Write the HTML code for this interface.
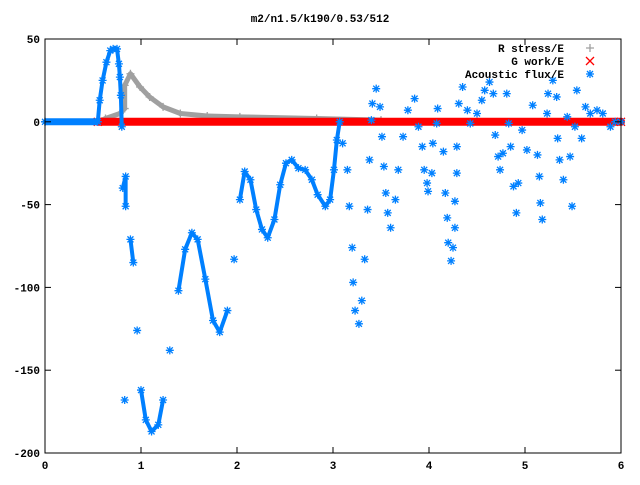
<!DOCTYPE html>
<html><head><meta charset="utf-8"><style>
body{margin:0;background:#fff}
svg text{font-family:"Liberation Mono",monospace;font-size:11px;font-weight:bold;fill:#000}
</style></head><body>
<svg id="chart" width="640" height="480" xmlns="http://www.w3.org/2000/svg">
<g id="grid"></g><g id="series"></g><g id="axes"></g><g id="legend"></g>
</svg>
<script>
const xTicks=[0,1,2,3,4,5,6];
const yTicks=[50,0,-50,-100,-150,-200];
const titleText="m2/n1.5/k190/0.53/512";
const acX=[0,0.55,0.57,0.60,0.64,0.68,0.71,0.75,0.77,0.78,0.79,0.80,0.81,0.84,0.84,0.83,0.89,0.92,0.96,1.00,1.05,1.11,1.18,1.23,1.30,1.39,1.46,1.53,1.59,1.67,1.75,1.82,1.90,1.97,2.03,2.08,2.14,2.20,2.26,2.32,2.39,2.45,2.51,2.57,2.64,2.71,2.78,2.84,2.92,2.97,3.01,3.04,3.07,3.10,3.15,3.17,3.20,3.21,3.23,3.27,3.30,3.33,3.36,3.38,3.40,3.41,3.45,3.49,3.51,3.53,3.55,3.57,3.60,3.65,3.68,3.73,3.78,3.85,3.89,3.93,3.95,3.98,3.99,4.03,4.04,4.08,4.09,4.15,4.17,4.19,4.20,4.23,4.25,4.27,4.27,4.29,4.29,4.31,4.35,4.40,4.43,4.50,4.55,4.58,4.63,4.67,4.69,4.72,4.74,4.77,4.81,4.83,4.85,4.88,4.91,4.93,4.97,5.02,5.08,5.13,5.15,5.16,5.18,5.23,5.24,5.29,5.33,5.34,5.36,5.40,5.44,5.47,5.49,5.52,5.54,5.59,5.63,5.68,5.75,5.81,5.89,5.94,6.0];
const acY=[0,0,13,25,36,43,44,44,35,27,16,-3,-40,-33,-51,-168,-71,-85,-126,-162,-180,-187,-183,-168,-138,-102,-77,-67,-71,-95,-120,-127,-114,-83,-47,-30,-35,-53,-65,-70,-59,-38,-25,-23,-28,-29,-35,-44,-51,-47,-29,-11,0,-13,-29,-51,-76,-97,-114,-122,-108,-83,-53,-23,1,11,20,9,-9,-27,-43,-55,-64,-47,-29,-9,7,14,-3,-15,-29,-37,-42,-31,-13,-1,8,-18,-43,-58,-73,-84,-76,-64,-48,-31,-15,11,21,7,-1,5,13,19,24,17,-8,-21,-29,-19,17,-1,-15,-39,-55,-37,-5,-17,10,-20,-33,-49,-59,5,17,25,15,-10,-23,-35,3,-21,-51,-3,19,-10,9,5,7,5,-3,0,0];
const rsX=[0,0.55,0.63,0.78,0.83,0.83,0.89,0.99,1.09,1.23,1.41,1.69,2.03,2.83,3.5,6];
const rsY=[0,0,2,5,8,22,29,21,15,9,5,3.5,3,2,1,0];
const gwX=[0.55,6];
const gwY=[0,0];
const L=45,R=621,T=39,B=453;
const xs=v=>L+(v-0)/6*(R-L);
const ys=v=>T+(50-v)/250*(B-T);
const NS="http://www.w3.org/2000/svg";
function mk(tag,parent,attrs){const e=document.createElementNS(NS,tag);for(const k in attrs)e.setAttribute(k,attrs[k]);parent.appendChild(e);return e;}
const axes=document.getElementById('axes'),series=document.getElementById('series'),legend=document.getElementById('legend');
const svg=document.getElementById('chart');
const title=mk('text',svg,{x:320,y:22,'text-anchor':'middle'});title.textContent=titleText;


const frame=mk('rect',axes,{x:L,y:T,width:R-L,height:B-T,fill:'none',stroke:'#000','stroke-width':1});


xTicks.forEach(t=>{const x=xs(t);
 mk('line',axes,{x1:x,y1:B,x2:x,y2:B-6,stroke:'#000'});mk('line',axes,{x1:x,y1:T,x2:x,y2:T+6,stroke:'#000'});
 const tx=mk('text',axes,{x:x,y:B+16,'text-anchor':'middle'});tx.textContent=t;
 
 });
yTicks.forEach(t=>{const y=ys(t);
 mk('line',axes,{x1:L,y1:y,x2:L+6,y2:y,stroke:'#000'});mk('line',axes,{x1:R,y1:y,x2:R-6,y2:y,stroke:'#000'});
 const tx=mk('text',axes,{x:L-5,y:y+4,'text-anchor':'end'});tx.textContent=t;
 
 });
function star(g,x,y,c){mk('path',g,{d:`M${x-4} ${y}H${x+4}M${x} ${y-4}V${y+4}M${x-3} ${y-3}L${x+3} ${y+3}M${x-3} ${y+3}L${x+3} ${y-3}`,stroke:c,'stroke-width':1.3,fill:'none'});}
function plus(g,x,y,c){mk('path',g,{d:`M${x-4} ${y}H${x+4}M${x} ${y-4}V${y+4}`,stroke:c,'stroke-width':1.3,fill:'none'});}
function cross(g,x,y,c){mk('path',g,{d:`M${x-4} ${y-4}L${x+4} ${y+4}M${x-4} ${y+4}L${x+4} ${y-4}`,stroke:c,'stroke-width':1.3,fill:'none'});}
function linked(g,X,Y,c,w,maxd,xmax){for(let i=1;i<X.length;i++){if(X[i]>xmax)continue;const x1=xs(X[i-1]),y1=ys(Y[i-1]),x2=xs(X[i]),y2=ys(Y[i]);
 if(Math.hypot(x2-x1,y2-y1)<maxd)mk('line',g,{x1,y1,x2,y2,stroke:c,'stroke-width':w,'stroke-linecap':'round'});}}
const gR=mk('g',series,{});


linked(gR,rsX,rsY,'#a0a0a0',5,200,7);
rsX.forEach((v,i)=>plus(gR,xs(v),ys(rsY[i]),'#a0a0a0'));
const gG=mk('g',series,{});


linked(gG,gwX,gwY,'#ff0000',8,1000,7);
gwX.forEach((v,i)=>cross(gG,xs(v),ys(gwY[i]),'#ff0000'));
const gA=mk('g',series,{});


mk('line',gA,{x1:xs(0),y1:ys(0),x2:xs(0.55),y2:ys(0),stroke:'#0080ff','stroke-width':7});
linked(gA,acX,acY,'#0080ff',4,45,3.07);
acX.forEach((v,i)=>star(gA,xs(v),ys(acY[i]),'#0080ff'));
const entries=[['R stress/E','#a0a0a0',plus],['G work/E','#ff0000',cross],['Acoustic flux/E','#0080ff',star]];
entries.forEach((e,i)=>{const y=48+i*13;const g=mk('g',legend,{});
 
 
 const t=mk('text',g,{x:564,y:y+4,'text-anchor':'end'});t.textContent=e[0];e[2](g,590,y,e[1]);});
</script>
</body></html>
